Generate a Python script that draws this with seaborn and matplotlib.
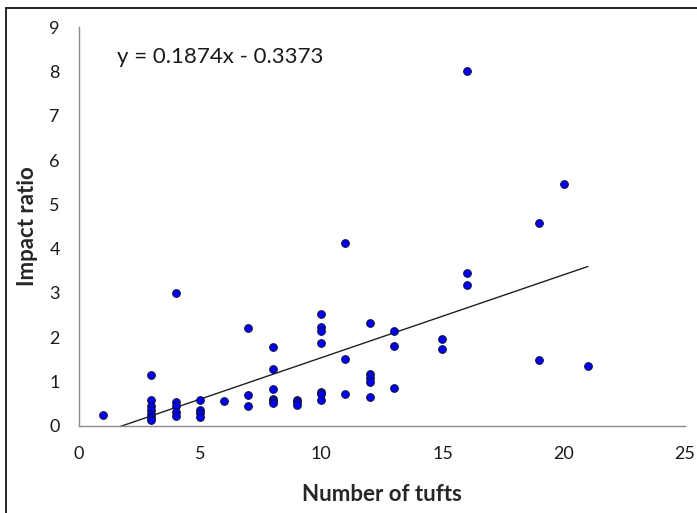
import numpy as np
import pandas as pd
import seaborn as sns
import matplotlib.pyplot as plt
from matplotlib.lines import Line2D

# values
tufts = [1,
         3, 3, 3, 3, 3, 3, 3,
         4, 4, 4, 4, 4,
         5, 5, 5, 5,
         6,
         7, 7, 7,
         8, 8, 8, 8, 8, 8,
         9, 9, 9,
         10, 10, 10, 10, 10, 10, 10,
         11, 11, 11,
         12, 12, 12, 12, 12,
         13, 13, 13,
         15, 15,
         16, 16, 16,
         19, 19,
         20,
         21]
impact = [0.25,
          1.15, 0.59, 0.44, 0.35, 0.27, 0.20, 0.12,
          2.99, 0.53, 0.44, 0.32, 0.21,
          0.59, 0.36, 0.29, 0.20,
          0.55,
          2.21, 0.69, 0.44,
          1.79, 1.29, 0.83, 0.61, 0.55, 0.52,
          0.59, 0.53, 0.47,
          2.52, 2.24, 2.15, 1.87, 0.76, 0.71, 0.58,
          4.12, 1.50, 0.72,
          2.32, 1.17, 1.07, 1.00, 0.64,
          2.13, 1.81, 0.86,
          1.95, 1.73,
          8.00, 3.45, 3.19,
          4.57, 1.48,
          5.47,
          1.35]

slope = 0.1874
intercept = -0.3373

df = pd.DataFrame({'tufts': tufts, 'impact': impact})

sns.set_style('white')
plt.rcParams['font.family'] = ['Lato', 'DejaVu Sans']

fig = plt.figure(figsize=(6.97, 5.13), dpi=100)
ax = fig.add_axes([0.1128, 0.170, 0.870, 0.777])

# trendline from the equation, over the data range
line_x = np.array([min(tufts), max(tufts)])
trend = pd.DataFrame({'x': line_x, 'y': slope * line_x + intercept})
sns.lineplot(data=trend, x='x', y='y', ax=ax, color='#202020', linewidth=1.0)

sns.scatterplot(data=df, x='tufts', y='impact', ax=ax, color='#0000FF',
                edgecolor='#101040', linewidth=0.8, s=30, zorder=3)

ax.set_xlim(0, 25)
ax.set_ylim(0, 9)
ax.set_xticks(range(0, 26, 5))
ax.set_yticks(range(0, 10))

for side in ['top', 'right']:
    ax.spines[side].set_visible(False)
for side in ['left', 'bottom']:
    ax.spines[side].set_color('#8c8c8c')
    ax.spines[side].set_linewidth(1.0)

ax.tick_params(axis='both', direction='inout', length=9, width=1.0,
               color='#8c8c8c', labelsize=13, labelcolor='#1a1a1a')
ax.tick_params(axis='y', pad=9)
ax.tick_params(axis='x', pad=10)

ax.set_xlabel('Number of tufts', fontsize=16, fontweight='bold', labelpad=16)
ax.set_ylabel('Impact ratio', fontsize=16, fontweight='bold', labelpad=8)

ax.text(0.063, 0.925, 'y = 0.1874x - 0.3373', transform=ax.transAxes,
        fontsize=16, va='center', ha='left', color='#1a1a1a')

# frame edges of the cropped screenshot
fig.add_artist(Line2D([6 / 697, 6 / 697], [0, 1 - 8 / 513], color='black',
                      linewidth=1.2, transform=fig.transFigure))
fig.add_artist(Line2D([6 / 697, 1], [1 - 8 / 513, 1 - 8 / 513], color='black',
                      linewidth=1.2, transform=fig.transFigure))

plt.savefig('out.png', dpi=100)
